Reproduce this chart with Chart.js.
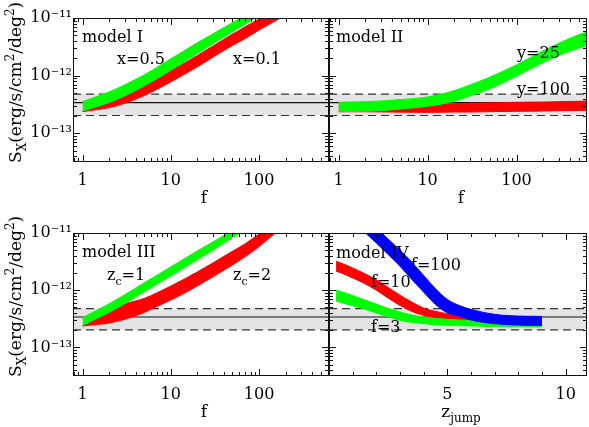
<!DOCTYPE html>
<html>
<head>
<meta charset="utf-8">
<script src="https://cdn.jsdelivr.net/npm/chart.js@4.4.0/dist/chart.umd.min.js"></script>
<style>
  body { margin: 0; background: #fff; }
  #wrap { position: relative; width: 589px; height: 427px; }
  #wrap canvas { position: absolute; left: 0; top: 0; }
</style>
</head>
<body>
<div id="wrap">
  <canvas id="p1" width="589" height="427"></canvas>
  <canvas id="p2" width="589" height="427"></canvas>
  <canvas id="p3" width="589" height="427"></canvas>
  <canvas id="p4" width="589" height="427"></canvas>
</div>
<script>
// observed flux and its range (grey band)
const obsMid = 3.40e-13;
const obsLo = 2.03e-13;
const obsHi = 4.78e-13;

// model I / model III : S_X against f
const fGrid = [1, 2, 3, 5, 7, 10, 15, 20, 30, 50, 70, 100, 150, 200];
const x05Hi = [3.53e-13, 5.21e-13, 6.90e-13, 1.03e-12, 1.40e-12, 1.96e-12, 2.84e-12, 3.72e-12, 5.33e-12, 8.29e-12, 1.13e-11, 1.56e-11];
const x05Lo = [2.43e-13, 3.40e-13, 4.44e-13, 6.63e-13, 8.89e-13, 1.24e-12, 1.83e-12, 2.42e-12, 3.57e-12, 5.78e-12, 7.86e-12, 1.10e-11];
const x01Hi = [2.40e-13, 3.44e-13, 4.32e-13, 6.62e-13, 8.89e-13, 1.21e-12, 1.73e-12, 2.24e-12, 3.25e-12, 5.26e-12, 7.06e-12, 9.61e-12, 1.36e-11, 1.75e-11];
const x01Lo = [2.37e-13, 2.78e-13, 3.30e-13, 4.50e-13, 5.80e-13, 7.78e-13, 1.10e-12, 1.42e-12, 2.09e-12, 3.34e-12, 4.42e-12, 6.18e-12, 8.75e-12, 1.13e-11];

const zc1Hi = [3.30e-13, 5.79e-13, 8.31e-13, 1.35e-12, 1.83e-12, 2.56e-12, 3.72e-12, 4.86e-12, 6.97e-12, 1.11e-11, 1.51e-11];
const zc1Lo = [2.43e-13, 4.09e-13, 5.79e-13, 9.37e-13, 1.28e-12, 1.78e-12, 2.59e-12, 3.39e-12, 4.99e-12, 8.29e-12, 1.16e-11];
const zc2Hi = [2.40e-13, 4.15e-13, 5.71e-13, 7.18e-13, 9.02e-13, 1.18e-12, 1.64e-12, 2.09e-12, 3.00e-12, 4.80e-12, 6.52e-12, 9.61e-12, 1.44e-11, 1.82e-11];
const zc2Lo = [2.37e-13, 2.67e-13, 3.09e-13, 4.09e-13, 5.21e-13, 6.72e-13, 9.25e-13, 1.19e-12, 1.71e-12, 2.77e-12, 3.87e-12, 5.78e-12, 9.73e-12, 1.31e-11];

// model II
const fGrid2 = [1, 2, 3, 5, 10, 20, 30, 50, 100, 200, 300, 500, 620];
const y25Hi = [3.44e-13, 3.53e-13, 3.63e-13, 3.83e-13, 4.26e-13, 5.49e-13, 6.90e-13, 9.37e-13, 1.54e-12, 2.70e-12, 3.66e-12, 5.13e-12, 5.70e-12];
const y25Lo = [2.37e-13, 2.40e-13, 2.46e-13, 2.63e-13, 2.93e-13, 3.58e-13, 4.44e-13, 5.87e-13, 9.77e-13, 1.69e-12, 2.24e-12, 3.00e-12, 3.34e-12];
const y100Hi = [3.01e-13, 3.09e-13, 3.13e-13, 3.18e-13, 3.22e-13, 3.26e-13, 3.30e-13, 3.35e-13, 3.44e-13, 3.48e-13, 3.53e-13, 3.58e-13, 3.63e-13];
const y100Lo = [2.36e-13, 2.36e-13, 2.34e-13, 2.32e-13, 2.30e-13, 2.33e-13, 2.33e-13, 2.37e-13, 2.40e-13, 2.43e-13, 2.46e-13, 2.49e-13, 2.49e-13];

// model IV : S_X against z_jump
const zGrid = [0.3, 0.5, 1, 1.5, 2, 2.5, 3, 3.5, 4, 4.5, 5, 5.5, 6, 7, 8, 9];
const f100Hi = [5.69e-11, 4.65e-11, 2.92e-11, 1.90e-11, 1.22e-11, 7.86e-12, 4.99e-12, 3.08e-12, 1.81e-12, 1.06e-12, 6.90e-13, 5.42e-13, 4.62e-13, 3.78e-13, 3.53e-13, 3.48e-13];
const f100Lo = [3.12e-11, 2.55e-11, 1.60e-11, 1.04e-11, 6.70e-12, 4.20e-12, 2.62e-12, 1.54e-12, 9.25e-13, 5.64e-13, 4.04e-13, 3.53e-13, 3.01e-13, 2.60e-13, 2.46e-13, 2.40e-13];
const f10Hi = [3.21e-12, 3.00e-12, 2.45e-12, 1.96e-12, 1.52e-12, 1.12e-12, 8.20e-13, 6.20e-13, 4.88e-13, 4.26e-13, 3.88e-13, 3.68e-13, 3.53e-13, 3.35e-13, 3.26e-13, 3.22e-13];
const f10Lo = [2.15e-12, 2.01e-12, 1.64e-12, 1.31e-12, 1.00e-12, 7.28e-13, 5.42e-13, 4.26e-13, 3.63e-13, 3.26e-13, 3.01e-13, 2.85e-13, 2.78e-13, 2.67e-13, 2.60e-13, 2.53e-13];
const f3Hi = [1.00e-12, 9.51e-13, 8.10e-13, 6.81e-13, 5.71e-13, 4.81e-13, 4.15e-13, 3.68e-13, 3.40e-13, 3.22e-13, 3.09e-13, 3.01e-13, 2.97e-13, 2.89e-13, 2.89e-13, 2.85e-13];
const f3Lo = [6.45e-13, 6.11e-13, 5.35e-13, 4.68e-13, 3.98e-13, 3.44e-13, 2.97e-13, 2.74e-13, 2.60e-13, 2.49e-13, 2.43e-13, 2.40e-13, 2.37e-13, 2.33e-13, 2.33e-13, 2.30e-13];

// tick labels
const sTicks = [1e-13, 1e-12, 1e-11];
const fTicks = [1, 10, 100];
const zTicks = [5, 10];

const FONT = "'DejaVu Serif'";
const GREEN = '#00ff00', RED = '#ff0000', BLUE = '#0000ff';
const SUP = { '-': '\u207b', '0': '\u2070', '1': '\u00b9', '2': '\u00b2', '3': '\u00b3' };

function powLabel(v) {
    const e = String(Math.round(Math.log10(v)));
    return '10' + e.split('').map(c => SUP[c] || c).join('');
}

function logTicks(min, max) {
    const out = [];
    for (let e = Math.floor(Math.log10(min)); e <= Math.ceil(Math.log10(max)); e++) {
        for (let m = 1; m < 10; m++) {
            const v = m * Math.pow(10, e);
            if (v >= min * 1.001 && v <= max * 0.999) out.push({ v, major: m === 1 });
        }
    }
    return out;
}

// text with sub/superscripts: parts = [[text, ''|'sub'|'sup'], ...]
function drawRich(ctx, parts, x, y, size) {
    let cx = x;
    parts.forEach(([t, k]) => {
        const s = k ? Math.round(size * 0.68) : size;
        const dy = k === 'sub' ? size * 0.3 : (k === 'sup' ? -size * 0.42 : 0);
        ctx.font = s + 'px ' + FONT;
        ctx.fillText(t, cx, y + dy);
        cx += ctx.measureText(t).width;
    });
    return cx - x;
}

const framePlugin = {
    id: 'frame',
    afterDatasetsDraw(chart, args, opts) {
        const { ctx, chartArea: a, scales } = chart;
        ctx.save();
        ctx.strokeStyle = '#111';
        ctx.lineWidth = 1;
        ctx.beginPath();
        opts.xTicks.forEach(t => {
            const px = Math.round(scales.x.getPixelForValue(t.v)) + 0.5;
            const l = t.major ? 7 : 4;
            ctx.moveTo(px, a.bottom); ctx.lineTo(px, a.bottom - l);
            ctx.moveTo(px, a.top); ctx.lineTo(px, a.top + l);
        });
        opts.yTicks.forEach(t => {
            const py = Math.round(scales.y.getPixelForValue(t.v)) + 0.5;
            const l = t.major ? 7 : 4;
            ctx.moveTo(a.left, py); ctx.lineTo(a.left + l, py);
            ctx.moveTo(a.right, py); ctx.lineTo(a.right - l, py);
        });
        ctx.stroke();
        ctx.strokeRect(Math.round(a.left) + 0.5, Math.round(a.top) + 0.5,
            Math.round(a.width) - 1, Math.round(a.height) - 1);

        ctx.fillStyle = '#000';
        ctx.textAlign = 'left';
        ctx.textBaseline = 'alphabetic';
        opts.labels.forEach(lb => drawRich(ctx, lb.parts, a.left + lb.dx, a.top + lb.dy, 16));

        // axis titles
        ctx.font = '17px ' + FONT;
        const w = drawRich(ctx, opts.xTitle, -1000, -1000, 17);
        drawRich(ctx, opts.xTitle, (a.left + a.right) / 2 - w / 2 + 3, a.bottom + 41, 17);
        if (opts.yTitle) {
            ctx.translate(21, a.bottom + 1);
            ctx.rotate(-Math.PI / 2);
            drawRich(ctx, opts.yTitle, 0, 0, 17);
        }
        ctx.restore();
    }
};

function band(xs, lo, hi, color) {
    const pts = arr => arr.map((y, i) => ({ x: xs[i], y }));
    return [
        { data: pts(lo), borderColor: color, backgroundColor: color, borderWidth: 1, fill: false, cubicInterpolationMode: 'monotone' },
        { data: pts(hi), borderColor: color, backgroundColor: color, borderWidth: 1, fill: '-1', cubicInterpolationMode: 'monotone' }
    ];
}

function obsSet(x0, x1) {
    const flat = y => [{ x: x0, y }, { x: x1, y }];
    return [
        { data: flat(obsLo), borderColor: 'rgba(0,0,0,0)', borderWidth: 1, fill: false },
        { data: flat(obsHi), borderColor: 'rgba(0,0,0,0)', borderWidth: 1, backgroundColor: '#e4e4e4', fill: '-1' },
        { data: flat(obsLo), borderColor: '#333', borderWidth: 1.2, borderDash: [8, 5], fill: false },
        { data: flat(obsHi), borderColor: '#333', borderWidth: 1.2, borderDash: [8, 5], fill: false },
        { data: flat(obsMid), borderColor: '#111', borderWidth: 1.2, fill: false }
    ];
}

const yTitle = [['S', ''], ['X', 'sub'], ['(erg/s/cm', ''], ['2', 'sup'], ['/deg', ''], ['2', 'sup'], [')', '']];
const S_MIN = Math.pow(10, -13.5), S_MAX = 1e-11;
const F_MIN = 0.78, F_MAX = 620;
const XH = 30;

function makePanel(id, p) {
    const [L, T, R, B] = p.rect;
    const sets = p.datasets.map((d, i) => Object.assign({ pointRadius: 0, order: -i }, d));
    const xLog = p.xType === 'logarithmic';
    new Chart(document.getElementById(id), {
        type: 'line',
        data: { datasets: sets },
        options: {
            responsive: false,
            animation: false,
            layout: { padding: { left: p.showY ? 0 : L, top: T, right: 589 - R, bottom: 427 - B - XH } },
            elements: { line: { capBezierPoints: false } },
            plugins: {
                legend: { display: false },
                tooltip: { enabled: false },
                frame: {
                    xTicks: p.xMinor,
                    yTicks: logTicks(S_MIN, S_MAX),
                    labels: p.labels,
                    xTitle: p.xTitle,
                    yTitle: p.showY ? yTitle : null
                }
            },
            scales: {
                x: {
                    type: p.xType,
                    min: p.xMin,
                    max: p.xMax,
                    grid: { display: false, drawTicks: false },
                    border: { display: false },
                    afterBuildTicks: s => { s.ticks = p.xLabels.map(v => ({ value: v })); },
                    afterFit: s => { s.height = XH; },
                    ticks: {
                        autoSkip: false,
                        maxRotation: 0,
                        padding: 9,
                        color: '#000',
                        font: { family: FONT, size: 16 },
                        callback: v => String(v)
                    }
                },
                y: {
                    type: 'logarithmic',
                    min: S_MIN,
                    max: S_MAX,
                    grid: { display: false, drawTicks: false },
                    border: { display: false },
                    afterBuildTicks: s => { s.ticks = sTicks.map(v => ({ value: v })); },
                    afterFit: s => { s.width = p.showY ? L : 0; },
                    ticks: {
                        display: p.showY,
                        autoSkip: false,
                        padding: 1,
                        color: '#000',
                        font: { family: FONT, size: 16 },
                        callback: v => powLabel(v)
                    }
                }
            }
        },
        plugins: [framePlugin]
    });
}

const fMinor = logTicks(F_MIN, F_MAX);
const zMinor = [];
for (let z = 1; z <= 10; z++) zMinor.push({ v: z, major: z % 5 === 0 });

makePanel('p1', {
    rect: [73, 18, 329, 162], showY: true,
    xType: 'logarithmic', xMin: F_MIN, xMax: F_MAX, xLabels: fTicks, xMinor: fMinor,
    xTitle: [['f', '']],
    datasets: [...obsSet(F_MIN, F_MAX), ...band(fGrid, x01Lo, x01Hi, RED), ...band(fGrid, x05Lo, x05Hi, GREEN)],
    labels: [
        { parts: [['model I', '']], dx: 9, dy: 24 },
        { parts: [['x=0.5', '']], dx: 44, dy: 46 },
        { parts: [['x=0.1', '']], dx: 160, dy: 46 }
    ]
});

makePanel('p2', {
    rect: [329, 18, 587, 162], showY: false,
    xType: 'logarithmic', xMin: F_MIN, xMax: F_MAX, xLabels: fTicks, xMinor: fMinor,
    xTitle: [['f', '']],
    datasets: [...obsSet(F_MIN, F_MAX), ...band(fGrid2, y100Lo, y100Hi, RED), ...band(fGrid2, y25Lo, y25Hi, GREEN)],
    labels: [
        { parts: [['model II', '']], dx: 7, dy: 24 },
        { parts: [['y=25', '']], dx: 188, dy: 40 },
        { parts: [['y=100', '']], dx: 188, dy: 76 }
    ]
});

makePanel('p3', {
    rect: [73, 233, 329, 376], showY: true,
    xType: 'logarithmic', xMin: F_MIN, xMax: F_MAX, xLabels: fTicks, xMinor: fMinor,
    xTitle: [['f', '']],
    datasets: [...obsSet(F_MIN, F_MAX), ...band(fGrid, zc2Lo, zc2Hi, RED), ...band(fGrid, zc1Lo, zc1Hi, GREEN)],
    labels: [
        { parts: [['model III', '']], dx: 9, dy: 24 },
        { parts: [['z', ''], ['c', 'sub'], ['=1', '']], dx: 34, dy: 47 },
        { parts: [['z', ''], ['c', 'sub'], ['=2', '']], dx: 160, dy: 47 }
    ]
});

makePanel('p4', {
    rect: [329, 233, 587, 376], showY: false,
    xType: 'linear', xMin: 0, xMax: 10.9, xLabels: zTicks, xMinor: zMinor,
    xTitle: [['z', ''], ['jump', 'sub']],
    datasets: [...obsSet(0, 10.9), ...band(zGrid, f10Lo, f10Hi, RED), ...band(zGrid, f3Lo, f3Hi, GREEN), ...band(zGrid, f100Lo, f100Hi, BLUE)],
    labels: [
        { parts: [['model IV', '']], dx: 7, dy: 25 },
        { parts: [['f=100', '']], dx: 82, dy: 37 },
        { parts: [['f=10', '']], dx: 42, dy: 54 },
        { parts: [['f=3', '']], dx: 42, dy: 99 }
    ]
});
</script>
</body>
</html>
